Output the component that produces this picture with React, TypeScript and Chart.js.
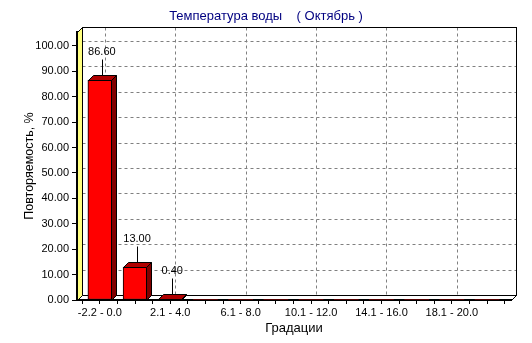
import React, { useEffect, useRef } from 'react';
import { Chart, registerables } from 'chart.js';

Chart.register(...registerables);

const chartTitle = 'Температура воды    ( Октябрь )';
const yAxisTitle = 'Повторяемость, %';
const xAxisTitle = 'Градации';

const categories = [
  '-2.2 - 0.0', '0.1 - 2.0', '2.1 - 4.0', '4.1 - 6.0', '6.1 - 8.0', '8.1 - 10.0',
  '10.1 - 12.0', '12.1 - 14.0', '14.1 - 16.0', '16.1 - 18.0', '18.1 - 20.0', '20.1 - 22.0',
];
const values = [86.6, 13.0, 0.4, 0, 0, 0, 0, 0, 0, 0, 0, 0];

const yMin = 0;
const yMax = 105.5;
const yStep = 10;
const xMin = -0.65;
const xMax = 11.68;
const labelEvery = 2;

const FONT = 'Arial, "Liberation Sans", sans-serif';
const D = 5; // 3D depth in px

function poly(ctx: CanvasRenderingContext2D, pts: number[][], fill: string, stroke = '#000') {
  ctx.beginPath();
  pts.forEach(([px, py], i) => (i ? ctx.lineTo(px, py) : ctx.moveTo(px, py)));
  ctx.closePath();
  ctx.fillStyle = fill;
  ctx.fill();
  ctx.strokeStyle = stroke;
  ctx.lineWidth = 1;
  ctx.stroke();
}

const threeD = {
  id: 'threeD',
  beforeDraw(chart: any) {
    const { ctx, chartArea, scales } = chart;
    const L = Math.round(chartArea.left) + 0.5;
    const R = Math.round(chartArea.right) + 0.5;
    const T = Math.round(chartArea.top) + 0.5;
    const B = Math.round(chartArea.bottom) + 0.5;
    const x = scales.x;
    const y = scales.y;
    ctx.save();
    ctx.fillStyle = '#ffffff';
    ctx.fillRect(L + D, T - D, R - L, B - T);
    ctx.strokeStyle = '#808080';
    ctx.lineWidth = 1;
    ctx.setLineDash([3, 3]);
    y.ticks.forEach((t: any) => {
      if (t.value <= yMin) return;
      const py = Math.round(y.getPixelForValue(t.value)) - D + 0.5;
      ctx.beginPath();
      ctx.moveTo(L + D, py);
      ctx.lineTo(R + D, py);
      ctx.stroke();
    });
    categories.forEach((_, i) => {
      if (i % labelEvery) return;
      const px = Math.round(x.getPixelForValue(i)) + D + 0.5;
      ctx.beginPath();
      ctx.moveTo(px, T - D);
      ctx.lineTo(px, B - D);
      ctx.stroke();
    });
    ctx.setLineDash([]);
    ctx.strokeStyle = '#000';
    ctx.strokeRect(L + D, T - D, R - L, B - T);
    poly(ctx, [[L, T], [L + D, T - D], [L + D, B - D], [L, B]], '#FFFF80');
    poly(ctx, [[L, B], [L + D, B - D], [R + D, B - D], [R, B]], '#ffffff');
    ctx.restore();
  },
  afterDatasetsDraw(chart: any) {
    const { ctx } = chart;
    const meta = chart.getDatasetMeta(0);
    ctx.save();
    meta.data.forEach((bar: any, i: number) => {
      const v = values[i];
      if (!(v > 0)) return;
      const { x, y, base, width } = bar.getProps(['x', 'y', 'base', 'width'], true);
      const l = Math.round(x - width / 2) + 0.5;
      const r = Math.round(x + width / 2) - 0.5;
      const t = Math.round(y) + 0.5;
      const b = Math.round(base) + 0.5;
      poly(ctx, [[r, t], [r + D, t - D], [r + D, b - D], [r, b]], '#800000');
      poly(ctx, [[l, t], [l + D, t - D], [r + D, t - D], [r, t]], '#B00000');
      const lx = Math.round(x + 2) + 0.5;
      ctx.strokeStyle = '#000';
      ctx.beginPath();
      ctx.moveTo(lx, t - D);
      ctx.lineTo(lx, t - 21);
      ctx.stroke();
      ctx.fillStyle = '#000';
      ctx.font = `11px ${FONT}`;
      ctx.textAlign = 'center';
      ctx.textBaseline = 'middle';
      ctx.fillText(v.toFixed(2), x + 2, y - 28);
    });
    ctx.restore();
  },
};

export default function App() {
  const ref = useRef<HTMLCanvasElement | null>(null);
  useEffect(() => {
    if (!ref.current) return;
    const chart = new Chart(ref.current, {
      type: 'bar',
      data: {
        datasets: [
          {
            data: values.map((v, i) => ({ x: i, y: v })),
            backgroundColor: '#FF0000',
            borderColor: '#000',
            borderWidth: (c: any) => (c.raw && c.raw.y > 0 ? 1 : 0),
            borderSkipped: false,
            barThickness: 24,
          } as any,
        ],
      },
      options: {
        animation: false,
        responsive: false,
        devicePixelRatio: 1,
        layout: { padding: 0 },
        plugins: {
          legend: { display: false },
          tooltip: { enabled: false },
          title: {
            display: true,
            text: chartTitle,
            color: '#000080',
            fullSize: true,
            font: { family: FONT, size: 13, weight: 'normal', lineHeight: 1.2 },
            padding: { top: 8.5, bottom: 7.9 },
          },
        },
        scales: {
          x: {
            type: 'linear',
            min: xMin,
            max: xMax,
            offset: false,
            afterFit: (s: any) => { s.height = 43; },
            grid: { display: true, drawOnChartArea: false, drawTicks: true, tickLength: 4, color: '#000', offset: false },
            border: { display: true, color: '#000', width: 2 },
            ticks: {
              stepSize: 0.5,
              includeBounds: false,
              autoSkip: false,
              maxRotation: 0,
              padding: 2,
              color: '#000',
              font: { family: FONT, size: 11 },
              callback: (val: any) => {
                const v = Number(val);
                const i = Math.round(v);
                if (Math.abs(v - i) < 1e-6 && i % labelEvery === 0 && i >= 0 && i < categories.length) return categories[i];
                return '';
              },
            },
            title: {
              display: true,
              text: xAxisTitle,
              color: '#000',
              font: { family: FONT, size: 13 },
              padding: { top: 0, bottom: 7 },
            },
          },
          y: {
            min: yMin,
            max: yMax,
            afterFit: (s: any) => { s.width = 77; },
            grid: { display: true, drawOnChartArea: false, drawTicks: true, tickLength: 5, color: '#000' },
            border: { display: true, color: '#000', width: 2 },
            ticks: {
              stepSize: yStep,
              includeBounds: false,
              padding: 3,
              color: '#000',
              font: { family: FONT, size: 11 },
              callback: (val: any) => Number(val).toFixed(2),
            },
            title: {
              display: true,
              text: yAxisTitle,
              color: '#000',
              font: { family: FONT, size: 12.5 },
              padding: { top: 22, bottom: 0 },
            },
          },
          yRight: {
            type: 'linear',
            position: 'right',
            display: true,
            afterFit: (s: any) => { s.width = 21; },
            grid: { display: false },
            border: { display: false },
            ticks: { display: false },
          },
        },
      } as any,
      plugins: [threeD],
    });
    return () => chart.destroy();
  }, []);
  return (
    <div style={{ position: 'fixed', left: 0, top: 0, width: 532, height: 343, background: '#fff' }}>
      <canvas ref={ref} width={532} height={343} style={{ width: 532, height: 343, display: 'block' }} />
    </div>
  );
}
